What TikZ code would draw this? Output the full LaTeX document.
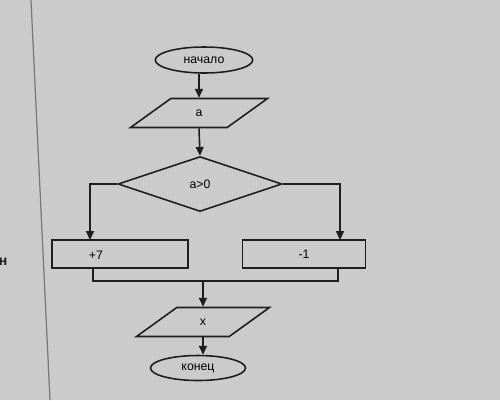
\documentclass[tikz,border=0pt]{standalone}
\usepackage{fontspec}
\setmainfont{Liberation Sans}
\usetikzlibrary{shapes.geometric}
\usetikzlibrary{arrows.meta}
\definecolor{screen}{RGB}{203,203,204}
\definecolor{ink}{RGB}{30,30,30}

\begin{document}
\begin{tikzpicture}[x=0.02cm,y=-0.02cm,line width=0.9pt,
  font=\fontsize{7}{8}\selectfont,
  term/.style={ellipse,draw=ink,minimum width=1.95cm,minimum height=0.52cm,inner sep=0pt},
  io/.style={trapezium,trapezium left angle=54,trapezium right angle=126,
    trapezium stretches=true,draw=ink,minimum width=2.74cm,minimum height=0.58cm,inner sep=0pt},
  cond/.style={diamond,draw=ink,minimum width=3.28cm,minimum height=1.1cm,inner sep=0pt},
  act/.style={rectangle,draw=ink,minimum height=0.56cm,inner sep=0pt},
  flow/.style={draw=ink,-{Triangle[length=5pt,width=4.5pt]}}]
  % screen background
  \useasboundingbox (0,0) rectangle (500,400);
  \clip (0,0) rectangle (500,400);
  \fill[screen] (0,0) rectangle (500,400);
  \draw[ink!60,line width=0.7pt] (31,0) -- (50,400);
  \node[ink,font=\fontsize{8}{9}\selectfont\bfseries] (cut) at (3,262) {н};
  % blocks
  \node[term] (start) at (204,60) {начало};
  \node[io] (ina) at (199,113) {a};
  \node[cond] (test) at (200,184) {a>0};
  \node[act,minimum width=2.72cm] (plusbox) at (120,254) {};
  \node (plustxt) at (96,255) {+7};
  \node[act,minimum width=2.46cm] (minusbox) at (304,254) {-1};
  \node[io,minimum width=2.66cm] (outx) at (203,322) {x};
  \node[term,minimum width=1.9cm,minimum height=0.5cm] (stop) at (198,368) {конец};
  % connectors
  \coordinate (lin) at (90,240);
  \coordinate (rin) at (340,240);
  \coordinate (lout) at (93,268);
  \coordinate (rout) at (338,268);
  \coordinate (lmerge) at (93,281);
  \coordinate (rmerge) at (338,281);
  \coordinate (join) at (203,281);
  \draw[flow] (start.south -| ina.north) -- (ina.north);
  \draw[flow] (ina.south) -- (test.north);
  \draw[flow] (test.west) -| (lin);
  \draw[flow] (test.east) -| (rin);
  \draw[ink] (lout) -- (lmerge) -- (rmerge) -- (rout);
  \draw[flow] (join) -- (outx.north);
  \draw[flow] (outx.south) -- (stop.north -| outx.south);
\end{tikzpicture}
\end{document}
